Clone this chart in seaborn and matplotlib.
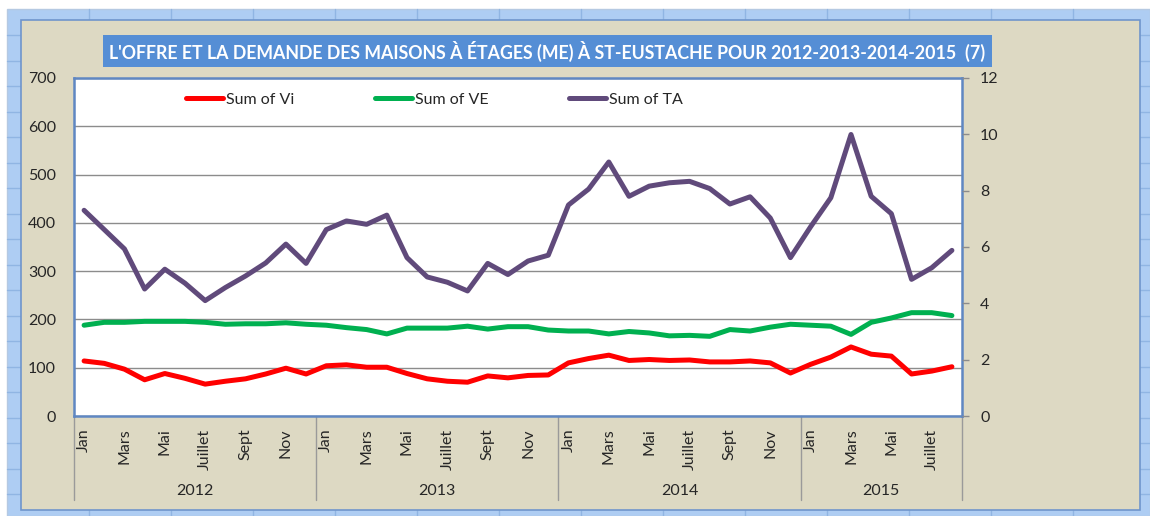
import pandas as pd
import matplotlib
matplotlib.use('Agg')
import matplotlib.pyplot as plt
from matplotlib.patches import Rectangle
import seaborn as sns

# ------------------------------------------
# Data
# ------------------------------------------
years = ['2012', '2013', '2014', '2015']
months_per_year = [12, 12, 12, 8]
month_names = ['Jan', 'Fév', 'Mars', 'Avril', 'Mai', 'Juin',
               'Juillet', 'Août', 'Sept', 'Oct', 'Nov', 'Déc']

sum_vi = [114, 109, 97, 75, 88, 78, 66, 72, 77, 87, 99, 87,
          104, 106, 101, 101, 88, 77, 72, 70, 83, 79, 84, 85,
          110, 119, 126, 115, 117, 115, 116, 112, 112, 114, 110, 89,
          107, 122, 143, 128, 124, 87, 93, 102]
sum_ve = [188, 194, 194, 196, 196, 196, 194, 190, 191, 191, 193, 190,
          188, 183, 179, 170, 182, 182, 182, 186, 180, 185, 185, 178,
          176, 176, 170, 175, 172, 166, 167, 165, 179, 176, 184, 190,
          188, 186, 169, 194, 203, 214, 214, 208]
sum_ta = [426, 386, 346, 263, 304, 275, 239, 266, 290, 317, 356, 316,
          386, 404, 397, 416, 328, 288, 277, 259, 316, 293, 321, 333,
          437, 470, 526, 455, 476, 483, 486, 471, 439, 454, 410, 328,
          392, 452, 583, 455, 419, 283, 307, 343]

series_names = ['Sum of Vi', 'Sum of VE', 'Sum of TA']
series_colors = ['#FF0000', '#00B050', '#604A7B']

title = "L'OFFRE ET LA DEMANDE DES MAISONS À ÉTAGES (ME) À ST-EUSTACHE POUR 2012-2013-2014-2015  (7)"

# ------------------------------------------
# Build long table
# ------------------------------------------
labels = []
for n in months_per_year:
    labels += month_names[:n]
pos = list(range(len(labels)))

df = pd.concat([
    pd.DataFrame({'pos': pos, 'value': vals, 'serie': name})
    for name, vals in zip(series_names, [sum_vi, sum_ve, sum_ta])
], ignore_index=True)

# ------------------------------------------
# Figure & background (Excel sheet look)
# ------------------------------------------
sns.set_style('white')
plt.rcParams['font.family'] = ['Lato', 'DejaVu Sans']
FS = 11.5

W, H = 1150, 516
fig = plt.figure(figsize=(W / 100, H / 100), dpi=100, facecolor='white')

bg = fig.add_axes([0, 0, 1, 1], zorder=0)
bg.set_xlim(0, W)
bg.set_ylim(H, 0)
bg.axis('off')
bg.add_patch(Rectangle((7, 9), W - 7, H - 9, facecolor='#AECDF3', edgecolor='#B5C9E2',
                       lw=1, zorder=1))
for x in range(89, W, 82):
    bg.plot([x, x], [9, H], color='#90B5E3', lw=1, zorder=2)
y = 35.0
while y < H:
    bg.plot([7, W], [y, y], color='#90B5E3', lw=1, zorder=2)
    y += 25.5
bg.add_patch(Rectangle((21, 20), 1119, 490, facecolor='#DDD9C3', edgecolor='#6F95CC',
                       lw=1.2, zorder=3))
bg.add_patch(Rectangle((103, 35), 889, 32, facecolor='#558ED5', edgecolor='none', zorder=4))
bg.text(547, 51.5, title, color='white', fontsize=12.8, fontweight='bold',
        ha='center', va='center', zorder=5)

# ------------------------------------------
# Plot area
# ------------------------------------------
x0, x1, y0, y1 = 74, 962, 78, 416
ax = fig.add_axes([x0 / W, (H - y1) / H, (x1 - x0) / W, (y1 - y0) / H], zorder=2)
ax.set_facecolor('white')

sns.lineplot(data=df, x='pos', y='value', hue='serie', hue_order=series_names,
             palette=series_colors, linewidth=3.6, sort=False, ax=ax)
for line in ax.get_lines():
    line.set_solid_capstyle('round')
    line.set_solid_joinstyle('round')

ax.set_xlim(-0.5, len(labels) - 0.5)
ax.set_ylim(0, 700)
ax.set_yticks(range(0, 701, 100))
ax.yaxis.grid(True, color='#8C8C8C', lw=1)
ax.set_axisbelow(True)
ax.tick_params(axis='y', length=0, pad=13, labelsize=FS)
ax.set_xlabel('')
ax.set_ylabel('')

ax.set_xticks(pos[::2])
ax.set_xticklabels(labels[::2], rotation=90, fontsize=FS)
ax.tick_params(axis='x', length=0, pad=9)

for s in ax.spines.values():
    s.set_color('#5F87C2')
    s.set_linewidth(1.8)

# Year groups under the month labels
trans = ax.get_xaxis_transform()
edges = [-0.5]
for n in months_per_year:
    edges.append(edges[-1] + n)
for e in edges:
    ax.plot([e, e], [0, -(500 - y1) / (y1 - y0)], color='#9A9A9A', lw=1,
            transform=trans, clip_on=False)
for yr, a, b in zip(years, edges[:-1], edges[1:]):
    ax.text((a + b) / 2, -(491 - y1) / (y1 - y0), yr, transform=trans,
            ha='center', va='center', fontsize=FS)

# Legend
handles, lbls = ax.get_legend_handles_labels()
for h in handles:
    h.set_solid_capstyle('round')
ax.legend(handles, lbls, loc='center', bbox_to_anchor=(0.406, 0.935), ncol=3,
          frameon=False, fontsize=FS, handlelength=2.3, handletextpad=0.2,
          columnspacing=5.05)

# Secondary axis on the right
ax2 = ax.twinx()
ax2.set_ylim(0, 12)
ax2.set_yticks(range(0, 13, 2))
ax2.tick_params(axis='y', direction='out', length=5, width=1, color='#8C8C8C',
                pad=8, labelsize=FS)
for s in ax2.spines.values():
    s.set_visible(False)

plt.savefig('out.png', dpi=100)
plt.close()
